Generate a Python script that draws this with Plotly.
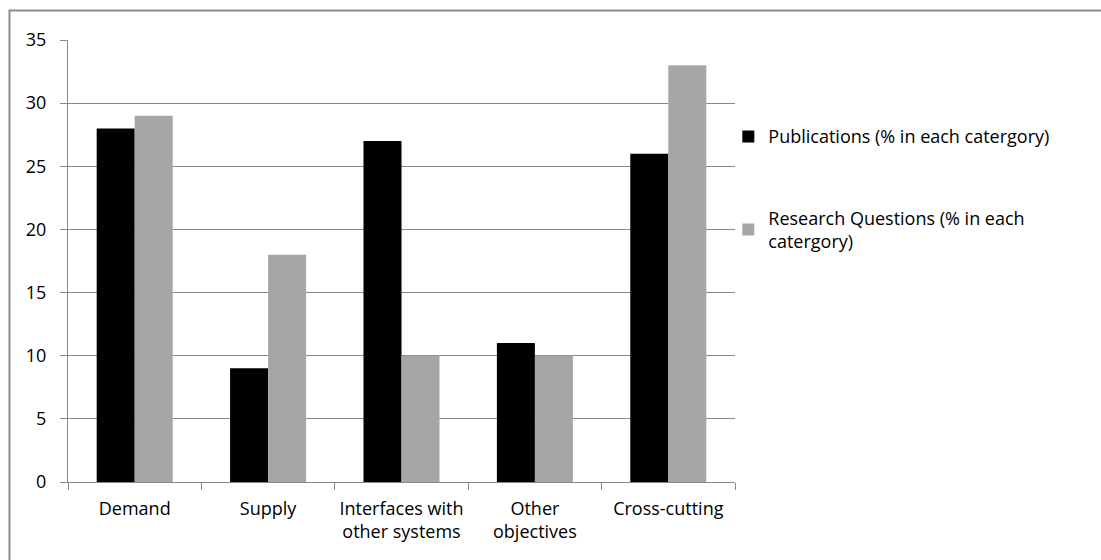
import plotly.graph_objects as go

categories = ["Demand", "Supply", "Interfaces with<br>other systems", "Other<br>objectives", "Cross-cutting"]
publications = [28, 9, 27, 11, 26]
research_questions = [29, 18, 10, 10, 33]
y_ticks = [0, 5, 10, 15, 20, 25, 30, 35]

FONT = "Open Sans"
GRID = "#898989"
SIZE = 18

fig = go.Figure()
fig.add_trace(go.Bar(
    x=categories, y=publications,
    name="Publications (% in each catergory)",
    marker=dict(color="#000000", line=dict(width=0)),
    legendgroup="pub",
))
fig.add_trace(go.Bar(
    x=categories, y=research_questions,
    name="Research Questions (% in each<br>catergory)",
    marker=dict(color="#a6a6a6", line=dict(width=0)),
    legendgroup="rq",
))

# outer chart frame
fig.add_shape(type="rect", xref="paper", yref="paper",
              x0=-0.0877, x1=1.6, y0=-0.3, y1=1.0667,
              line=dict(color="#8c8c8c", width=2), fillcolor="rgba(0,0,0,0)",
              layer="below")

fig.update_layout(
    width=1101, height=560,
    margin=dict(l=68, r=366, t=40, b=78),
    paper_bgcolor="white", plot_bgcolor="white",
    font=dict(family=FONT, size=SIZE, color="#000000"),
    barmode="group", bargap=0.43, bargroupgap=0,
    showlegend=True,
    legend=dict(
        x=0.99, xanchor="left", y=0.823, yanchor="top",
        tracegroupgap=55, traceorder="grouped",
        font=dict(family=FONT, size=SIZE, color="#000000"),
        bgcolor="rgba(0,0,0,0)",
    ),
)
fig.update_xaxes(
    showline=True, linecolor=GRID, linewidth=1.3,
    ticks="outside", ticklen=7, tickcolor=GRID, tickwidth=1.3,
    tickson="boundaries", showgrid=False, ticklabelstandoff=10,
    tickfont=dict(family=FONT, size=SIZE, color="#000000"),
)
fig.update_yaxes(
    range=[0, 35], tickvals=y_ticks,
    showline=True, linecolor=GRID, linewidth=1.3,
    ticks="outside", ticklen=7, tickcolor=GRID, tickwidth=1.3,
    showgrid=True, gridcolor=GRID, gridwidth=1.3,
    zeroline=False, ticklabelstandoff=10,
    tickfont=dict(family=FONT, size=SIZE, color="#000000"),
)

fig.write_html("out.html")
